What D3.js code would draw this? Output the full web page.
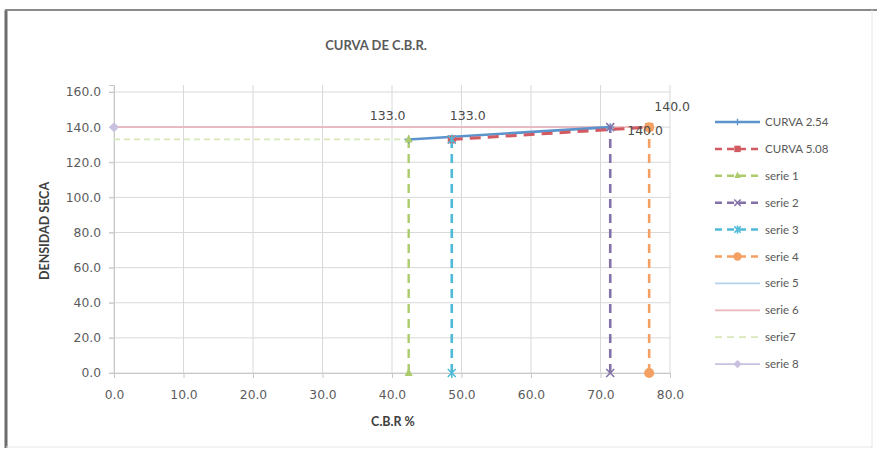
<!DOCTYPE html>
<html>
<head>
<meta charset="utf-8">
<script src="https://cdn.jsdelivr.net/npm/d3@7"></script>
<style>
  html, body { margin: 0; padding: 0; background: #fff; }
  svg { display: block; }
</style>
</head>
<body>
<svg id="chart" width="877" height="450"></svg>
<script>
// CBR (California Bearing Ratio) chart: dry density vs CBR %
const xTicks = [0, 10, 20, 30, 40, 50, 60, 70, 80];
const yTicks = [0, 20, 40, 60, 80, 100, 120, 140, 160];

const curva254X = [42.4, 71.4];
const curva254Y = [133.0, 140.0];
const curva508X = [48.6, 77.0];
const curva508Y = [133.0, 140.0];
const serie1X = [42.4, 42.4];
const serie1Y = [0, 133.0];
const serie2X = [71.4, 71.4];
const serie2Y = [0, 140.0];
const serie3X = [48.6, 48.6];
const serie3Y = [0, 133.0];
const serie4X = [77.0, 77.0];
const serie4Y = [0, 140.0];
const serie5X = [0, 71.4];
const serie5Y = [140.0, 140.0];
const serie6X = [0, 77.0];
const serie6Y = [140.0, 140.0];
const serie7X = [0, 42.4];
const serie7Y = [133.0, 133.0];
const serie8X = [0];
const serie8Y = [140.0];

const seriesNames = ["CURVA 2.54", "CURVA 5.08", "serie 1", "serie 2", "serie 3",
                     "serie 4", "serie 5", "serie 6", "serie7", "serie 8"];

const series = [
  { name: seriesNames[0], xs: curva254X, ys: curva254Y, color: "#5B93CC", width: 2.6, dash: null, marker: "plus" },
  { name: seriesNames[1], xs: curva508X, ys: curva508Y, color: "#D25A62", width: 3, dash: "11,7", marker: "square" },
  { name: seriesNames[2], xs: serie1X, ys: serie1Y, color: "#ABCB6C", width: 2.4, dash: "9,6", marker: "triangle" },
  { name: seriesNames[3], xs: serie2X, ys: serie2Y, color: "#8371A8", width: 2.6, dash: "9,6", marker: "x" },
  { name: seriesNames[4], xs: serie3X, ys: serie3Y, color: "#4FBAD8", width: 2.6, dash: "9,6", marker: "star" },
  { name: seriesNames[5], xs: serie4X, ys: serie4Y, color: "#F4A062", width: 2.6, dash: "9,6", marker: "circle" },
  { name: seriesNames[6], xs: serie5X, ys: serie5Y, color: "#B7D2EE", width: 1.8, dash: null, marker: null },
  { name: seriesNames[7], xs: serie6X, ys: serie6Y, color: "#EBB6BC", width: 1.8, dash: null, marker: null },
  { name: seriesNames[8], xs: serie7X, ys: serie7Y, color: "#D8E8B8", width: 1.8, dash: "6,4", marker: null },
  { name: seriesNames[9], xs: serie8X, ys: serie8Y, color: "#C9C0E0", width: 1.8, dash: null, marker: "diamond" }
];

// value labels shown next to the vertical reference lines
const labelSeries = [2, 4, 3, 5];
const labelOffsets = [[-21, -19], [16, -19], [17, 8], [23, -16]];
const labelAnchors = ["middle", "middle", "start", "middle"];

const svg = d3.select("#chart");

// outer frame
svg.append("line").attr("x1", 6).attr("x2", 6).attr("y1", 10).attr("y2", 448)
  .attr("stroke", "#6d6d6d").attr("stroke-width", 3);
svg.append("line").attr("x1", 5).attr("x2", 877).attr("y1", 10).attr("y2", 10)
  .attr("stroke", "#8a8a8a").attr("stroke-width", 2);
svg.append("line").attr("x1", 872).attr("x2", 872).attr("y1", 10).attr("y2", 448)
  .attr("stroke", "#e6e6e6").attr("stroke-width", 1);
svg.append("line").attr("x1", 6).attr("x2", 872).attr("y1", 447).attr("y2", 447)
  .attr("stroke", "#e6e6e6").attr("stroke-width", 1);

const x = d3.scaleLinear().domain([0, 80]).range([114, 670]);
const y = d3.scaleLinear().domain([0, 164]).range([373, 85]);

// gridlines
const grid = svg.append("g");
grid.selectAll("line.v").data(xTicks).join("line")
  .attr("x1", d => x(d)).attr("x2", d => x(d))
  .attr("y1", y(164)).attr("y2", y(0))
  .attr("stroke", "#d9d9d9").attr("stroke-width", 1);
grid.selectAll("line.h").data(yTicks).join("line")
  .attr("x1", x(0) - 5).attr("x2", x(80))
  .attr("y1", d => y(d)).attr("y2", d => y(d))
  .attr("stroke", "#d9d9d9").attr("stroke-width", 1);

// axes
const tickFont = "DejaVu Sans, Verdana, sans-serif";
const xAxis = svg.append("g").attr("transform", `translate(0,${y(0)})`)
  .call(d3.axisBottom(x).tickValues(xTicks).tickFormat(d3.format(".1f")).tickSize(5).tickPadding(12));
const yAxis = svg.append("g").attr("transform", `translate(${x(0)},0)`)
  .call(d3.axisLeft(y).tickValues(yTicks).tickFormat(d3.format(".1f")).tickSize(5).tickPadding(8));
[xAxis, yAxis].forEach(ax => {
  ax.select(".domain").attr("stroke", "#c8c8c8");
  ax.selectAll(".tick line").attr("stroke", "#c8c8c8");
  ax.selectAll(".tick text").attr("fill", "#5a5a5a")
    .style("font-family", tickFont).style("font-size", "12.3px");
});

// series lines
const line = d3.line().x(d => x(d[0])).y(d => y(d[1]));
const order = [6, 7, 8, 9, 0, 1, 2, 3, 4, 5];
order.forEach(i => {
  const s = series[i];
  const pts = s.xs.map((v, k) => [v, s.ys[k]]);
  if (pts.length > 1) {
    svg.append("path").datum(pts).attr("d", line)
      .attr("fill", "none").attr("stroke", s.color)
      .attr("stroke-width", s.width)
      .attr("stroke-dasharray", s.dash);
  }
});

function drawMarker(g, type, cx, cy, color, size) {
  const r = size;
  if (type === "plus") {
    g.append("path").attr("d", `M${cx - r},${cy}H${cx + r}M${cx},${cy - r}V${cy + r}`)
      .attr("stroke", color).attr("stroke-width", 1.4).attr("fill", "none");
  } else if (type === "square") {
    g.append("rect").attr("x", cx - r).attr("y", cy - r).attr("width", 2 * r).attr("height", 2 * r)
      .attr("fill", color);
  } else if (type === "triangle") {
    g.append("path").attr("d", `M${cx},${cy - r - 1}L${cx + r},${cy + r - 1}L${cx - r},${cy + r - 1}Z`)
      .attr("fill", color);
  } else if (type === "x") {
    g.append("path").attr("d", `M${cx - r},${cy - r}L${cx + r},${cy + r}M${cx + r},${cy - r}L${cx - r},${cy + r}`)
      .attr("stroke", color).attr("stroke-width", 1.5).attr("fill", "none");
  } else if (type === "star") {
    g.append("path").attr("d", `M${cx - r},${cy - r}L${cx + r},${cy + r}M${cx + r},${cy - r}L${cx - r},${cy + r}M${cx},${cy - r - 1}V${cy + r + 1}`)
      .attr("stroke", color).attr("stroke-width", 1.5).attr("fill", "none");
  } else if (type === "circle") {
    g.append("circle").attr("cx", cx).attr("cy", cy).attr("r", r + 1).attr("fill", color);
  } else if (type === "diamond") {
    g.append("path").attr("d", `M${cx},${cy - r - 1}L${cx + r + 1},${cy}L${cx},${cy + r + 1}L${cx - r - 1},${cy}Z`)
      .attr("fill", color);
  }
}

// markers
const markerLayer = svg.append("g");
order.forEach(i => {
  const s = series[i];
  if (!s.marker) return;
  s.xs.forEach((v, k) => drawMarker(markerLayer, s.marker, x(v), y(s.ys[k]), s.color, 4));
});

// value labels
labelSeries.forEach((si, k) => {
  const s = series[si];
  const last = s.ys.length - 1;
  svg.append("text")
    .attr("x", x(s.xs[last]) + labelOffsets[k][0])
    .attr("y", y(s.ys[last]) + labelOffsets[k][1])
    .attr("text-anchor", labelAnchors[k])
    .attr("fill", "#4a4a4a")
    .style("font-family", tickFont).style("font-size", "12.5px")
    .text(d3.format(".1f")(s.ys[last]));
});

// titles
const textFont = "Lato, 'Open Sans', sans-serif";
svg.append("text").attr("x", 376).attr("y", 50).attr("text-anchor", "middle")
  .attr("fill", "#5a5a5a").style("font-family", textFont).style("font-weight", "bold")
  .style("font-size", "13px").text("CURVA DE C.B.R.");
svg.append("text").attr("transform", `translate(49,${(y(0) + y(164)) / 2 + 2}) rotate(-90)`)
  .attr("text-anchor", "middle").attr("fill", "#404040")
  .style("font-family", textFont).style("font-weight", "bold").style("font-size", "12.5px")
  .text("DENSIDAD SECA");
svg.append("text").attr("x", 393).attr("y", 426).attr("text-anchor", "middle")
  .attr("fill", "#404040").style("font-family", textFont).style("font-weight", "bold")
  .style("font-size", "12.5px").text("C.B.R %");

// legend
const legend = svg.append("g");
series.forEach((s, i) => {
  const ly = 122 + i * 26.9;
  legend.append("line").attr("x1", 715).attr("x2", 760).attr("y1", ly).attr("y2", ly)
    .attr("stroke", s.color).attr("stroke-width", Math.min(s.width, 2.5))
    .attr("stroke-dasharray", s.dash ? "7,5" : null);
  if (s.marker) drawMarker(legend, s.marker, 737.5, ly, s.color, 3.2);
  legend.append("text").attr("x", 765).attr("y", ly + 4)
    .attr("fill", "#595959").style("font-family", textFont).style("font-size", "11.5px")
    .text(s.name);
});
</script>
</body>
</html>
